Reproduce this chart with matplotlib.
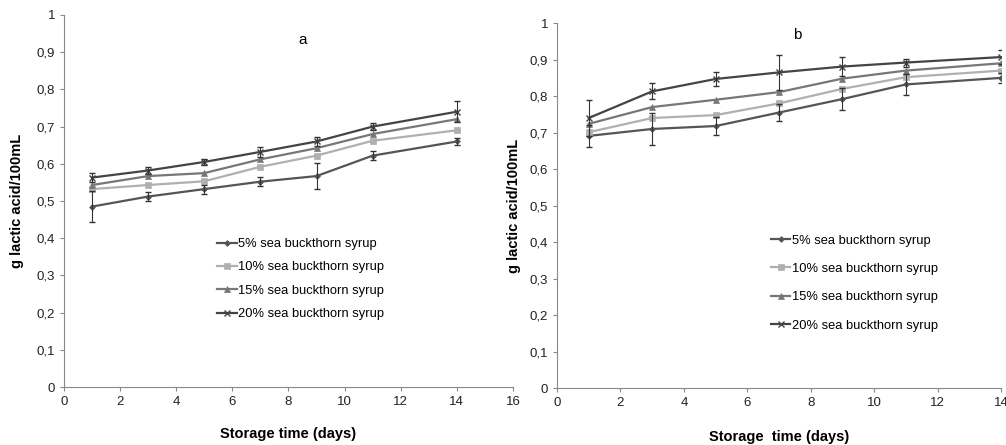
import matplotlib.pyplot as plt
from matplotlib.ticker import FuncFormatter

plt.rcParams['font.family'] = ['Liberation Sans', 'DejaVu Sans']

days = [1, 3, 5, 7, 9, 11, 14]
labels = ['5% sea buckthorn syrup', '10% sea buckthorn syrup',
          '15% sea buckthorn syrup', '20% sea buckthorn syrup']

# panel a
a_5 = [0.485, 0.512, 0.532, 0.552, 0.567, 0.622, 0.660]
a_10 = [0.532, 0.543, 0.553, 0.592, 0.622, 0.662, 0.690]
a_15 = [0.543, 0.567, 0.575, 0.612, 0.642, 0.680, 0.720]
a_20 = [0.563, 0.582, 0.605, 0.632, 0.660, 0.700, 0.740]
a_err5 = [0.042, 0.013, 0.012, 0.013, 0.035, 0.013, 0.010]
a_err20 = [0.013, 0.010, 0.008, 0.013, 0.013, 0.010, 0.028]

# panel b
b_5 = [0.691, 0.710, 0.718, 0.755, 0.792, 0.832, 0.850]
b_10 = [0.701, 0.740, 0.748, 0.780, 0.820, 0.852, 0.870]
b_15 = [0.724, 0.770, 0.790, 0.811, 0.848, 0.870, 0.890]
b_20 = [0.740, 0.813, 0.847, 0.865, 0.881, 0.892, 0.907]
b_err5 = [0.030, 0.044, 0.025, 0.023, 0.030, 0.028, 0.013]
b_err20 = [0.050, 0.022, 0.018, 0.048, 0.027, 0.011, 0.020]

colors = ['#555555', '#b0b0b0', '#777777', '#444444']
markers = ['D', 's', '^', 'x']
msizes = [3, 5, 5, 5]

comma = FuncFormatter(lambda v, p: ('%g' % round(v, 1)).replace('.', ','))

fig = plt.figure(figsize=(10.06, 4.45), dpi=100)
ax1 = fig.add_axes([0.0636, 0.1303, 0.4463, 0.836])
ax2 = fig.add_axes([0.5537, 0.128, 0.4414, 0.820])


def draw(ax, series, err_lo, err_hi, xmax, title, title_pos, xlabel, xpad, ypad,
         leg_anchor, leg_space):
    for i, (vals, c, m, ms) in enumerate(zip(series, colors, markers, msizes)):
        ax.plot(days, vals, color=c, marker=m, markersize=ms, linewidth=1.6,
                markeredgewidth=1 if m == 'x' else 0.5, label=labels[i])
    ax.errorbar(days, series[0], yerr=err_lo, fmt='none', ecolor='#333333',
                elinewidth=0.8, capsize=2.5)
    ax.errorbar(days, series[3], yerr=err_hi, fmt='none', ecolor='#333333',
                elinewidth=0.8, capsize=2.5)
    ax.set_xlim(0, xmax)
    ax.set_ylim(0, 1)
    ax.set_xticks(range(0, xmax + 1, 2))
    ax.set_yticks([i / 10 for i in range(11)])
    ax.yaxis.set_major_formatter(comma)
    ax.spines['top'].set_visible(False)
    ax.spines['right'].set_visible(False)
    ax.spines['left'].set_color('#888888')
    ax.spines['bottom'].set_color('#888888')
    ax.tick_params(labelsize=9.5, colors='#333333', length=3, direction='out')
    ax.tick_params(colors='#888888', labelcolor='#222222')
    ax.set_xlabel(xlabel, fontsize=10.5, fontweight='bold', labelpad=xpad)
    ax.set_ylabel('g lactic acid/100mL', fontsize=10.5, fontweight='bold',
                  labelpad=ypad)
    ax.text(title_pos[0], title_pos[1], title, transform=ax.transAxes,
            fontsize=11, ha='center', va='center')
    ax.legend(loc='upper left', bbox_to_anchor=leg_anchor, frameon=False,
              fontsize=9.3, handlelength=1.5, handletextpad=0.1,
              labelspacing=leg_space, borderaxespad=0)


draw(ax1, [a_5, a_10, a_15, a_20], a_err5, a_err20, 16, 'a', (0.532, 0.933),
     'Storage time (days)', 14, 9, (0.33, 0.414), 0.87)
draw(ax2, [b_5, b_10, b_15, b_20], b_err5, b_err20, 14, 'b', (0.54, 0.967),
     'Storage  time (days)', 15, 6, (0.47, 0.435), 1.27)

fig.savefig('out.png', dpi=100)
